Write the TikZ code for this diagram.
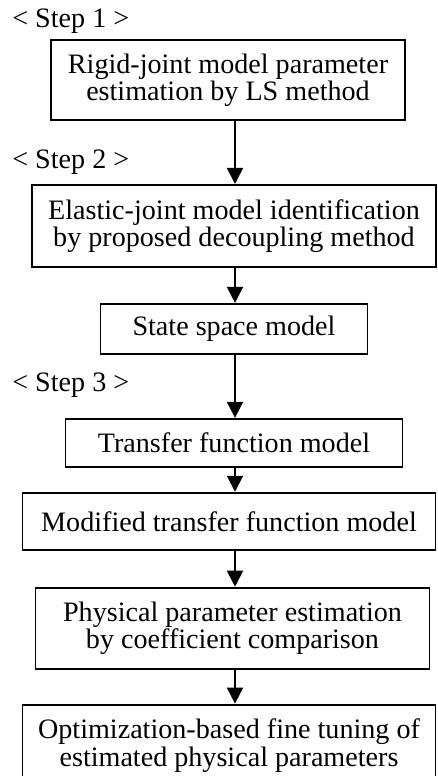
\documentclass[tikz,border=0pt]{standalone}
\usepackage{fontspec}
\setmainfont{Liberation Serif}
\usepackage{tikz}
\usetikzlibrary{positioning,arrows.meta}

\begin{document}
\begin{tikzpicture}[
    every node/.style={font=\fontsize{16}{15.5}\selectfont},
    procbox/.style={rectangle, draw, line width=1.1pt, align=center, inner sep=0pt},
    steplabel/.style={anchor=base west, inner sep=0pt},
    flow/.style={-{Triangle[length=0.32cm, width=0.32cm]}, line width=1.1pt}
]
    \useasboundingbox (0,0) rectangle (8.74,-15.52);

    % Process boxes, top to bottom
    \node[procbox, minimum width=7.08cm, minimum height=1.6cm] (rigid) at (4.56,-1.6)
        {Rigid-joint model parameter\\estimation by LS method};
    \node[procbox, minimum width=8.08cm, minimum height=1.64cm, below=1.26cm of rigid, xshift=0.12cm] (elastic)
        {Elastic-joint model identification\\by proposed decoupling method};
    \node[procbox, minimum width=5.34cm, minimum height=1.0cm, below=0.7cm of elastic] (statespace)
        {State space model};
    \node[procbox, minimum width=6.74cm, minimum height=0.96cm, below=1.26cm of statespace] (transfer)
        {Transfer function model};
    \node[procbox, minimum width=8.26cm, minimum height=1.14cm, below=0.48cm of transfer, xshift=-0.1cm] (modified)
        {Modified transfer function model};
    \node[procbox, minimum width=7.88cm, minimum height=1.62cm, below=0.72cm of modified, xshift=0.07cm] (physical)
        {Physical parameter estimation\\by coefficient comparison};
    \node[procbox, minimum width=8.26cm, minimum height=1.64cm, below=0.68cm of physical, xshift=-0.07cm] (finetune)
        {Optimization-based fine tuning of\\estimated physical parameters};

    % Step labels
    \node[steplabel] (step1) at (0.24,-0.55) {< Step 1 >};
    \node[steplabel] (step2) at (0.24,-3.36) {< Step 2 >};
    \node[steplabel] (step3) at (0.24,-7.83) {< Step 3 >};

    % Flow arrows along one spine
    \coordinate (spine) at (4.7,0);
    \draw[flow] (rigid.south -| spine) -- (elastic.north -| spine);
    \draw[flow] (elastic.south -| spine) -- (statespace.north -| spine);
    \draw[flow] (statespace.south -| spine) -- (transfer.north -| spine);
    \draw[flow] (transfer.south -| spine) -- (modified.north -| spine);
    \draw[flow] (modified.south -| spine) -- (physical.north -| spine);
    \draw[flow] (physical.south -| spine) -- (finetune.north -| spine);
\end{tikzpicture}
\end{document}
